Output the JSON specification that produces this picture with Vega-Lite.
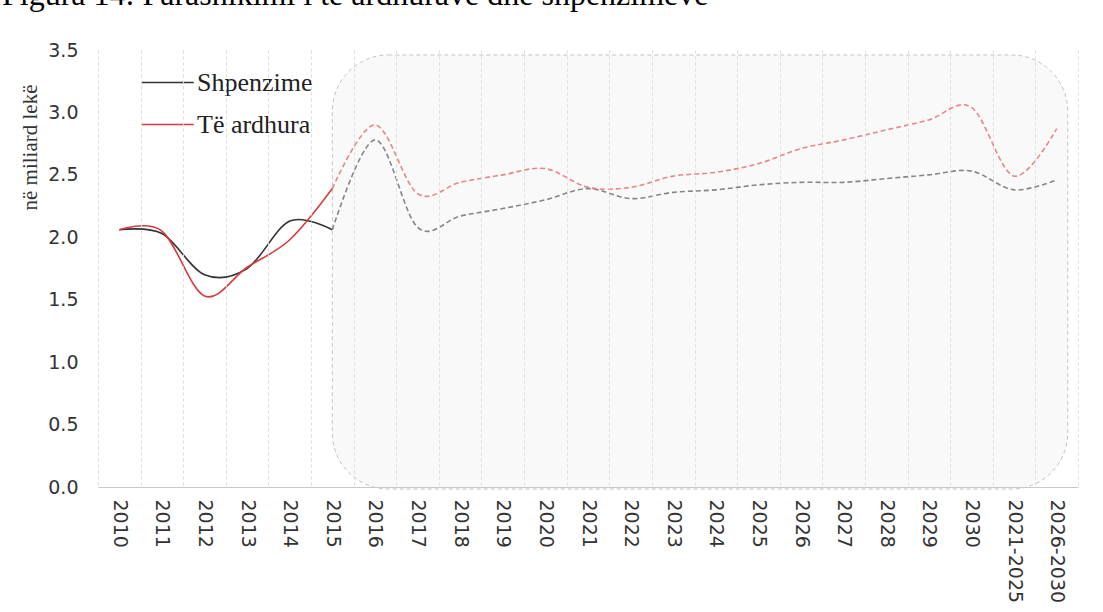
{
  "$schema": "https://vega.github.io/schema/vega-lite/v6.json",
  "width": 980,
  "height": 437,
  "autosize": {"type": "none"},
  "padding": {"left": 98, "top": 50, "right": 25, "bottom": 125},
  "background": "white",
  "title": {
    "text": "Figura 14: Parashikimi i të ardhurave dhe shpenzimeve",
    "anchor": "start",
    "font": "Liberation Serif",
    "fontSize": 32,
    "fontWeight": "normal",
    "color": "#000000",
    "dx": -17,
    "dy": 21,
    "offset": 25,
    "baseline": "alphabetic"
  },
  "config": {
    "view": {"stroke": null},
    "axis": {"gridDash": [3, 3], "gridColor": "#dcdcdc", "ticks": false}
  },
  "layer": [
    {
      "data": {"values": [{"zona": "parashikim"}]},
      "mark": {
        "type": "rect",
        "cornerRadius": 56,
        "fill": "#e6e6e6",
        "fillOpacity": 0.25,
        "stroke": "#c4c4c4",
        "strokeDash": [4, 3],
        "strokeWidth": 1,
        "y2Offset": 2,
        "x2Offset": 11
      },
      "encoding": {
        "x": {"datum": "2015", "bandPosition": 0.5, "type": "ordinal"},
        "x2": {"datum": "2026-2030"},
        "y": {"datum": 3.46, "type": "quantitative"},
        "y2": {"datum": 0}
      }
    },
    {
      "data": {"name": "vlerat"},
      "transform": [
        {"fold": ["Shpenzime", "Të ardhura"], "as": ["seria", "vlera"]},
        {"filter": "datum.year <= '2015'"}
      ],
      "mark": {"type": "line", "interpolate": "cardinal", "strokeWidth": 1.6},
      "encoding": {
        "x": {"field": "year", "type": "ordinal"},
        "y": {"field": "vlera", "type": "quantitative"},
        "order": {"value": null},
        "color": {
          "field": "seria",
          "type": "nominal",
          "scale": {"domain": ["Shpenzime", "Të ardhura"], "range": ["#333333", "#d63c3c"]},
          "legend": {
            "orient": "none",
            "legendX": 42,
            "legendY": 5,
            "title": null,
            "symbolType": "stroke",
            "symbolSize": 2750,
            "symbolStrokeWidth": 1.6,
            "labelFont": "Liberation Serif",
            "labelFontSize": 26,
            "labelColor": "#222222",
            "labelOffset": 2,
            "rowPadding": 1
          }
        }
      }
    },
    {
      "data": {"name": "vlerat"},
      "transform": [
        {"fold": ["Shpenzime", "Të ardhura"], "as": ["seria", "vlera"]},
        {"filter": "datum.year >= '2015'"}
      ],
      "mark": {"type": "line", "interpolate": "cardinal", "strokeWidth": 1.6, "strokeDash": [5, 3]},
      "encoding": {
        "x": {"field": "year", "type": "ordinal"},
        "y": {"field": "vlera", "type": "quantitative"},
        "order": {"value": null},
        "stroke": {
          "field": "seria",
          "type": "nominal",
          "scale": {"domain": ["Shpenzime", "Të ardhura"], "range": ["#858585", "#e88686"]},
          "legend": null
        }
      }
    }
  ],
  "resolve": {"scale": {"x": "shared", "y": "shared"}},
  "encoding": {
    "x": {
      "type": "ordinal",
      "scale": {
        "type": "band",
        "paddingInner": 0,
        "paddingOuter": 0,
        "domain": ["2010","2011","2012","2013","2014","2015","2016","2017","2018","2019","2020","2021","2022","2023","2024","2025","2026","2027","2028","2029","2030","2021-2025","2026-2030"]
      },
      "axis": {
        "title": null,
        "labelAngle": 90,
        "labelFont": "DejaVu Sans",
        "labelFontSize": 19,
        "labelColor": "#333333",
        "labelPadding": 12,
        "tickBand": "extent",
        "grid": true,
        "domainColor": "#c8c8c8"
      }
    },
    "y": {
      "type": "quantitative",
      "scale": {"domain": [0, 3.5], "nice": false},
      "axis": {
        "title": "në miliard lekë",
        "titleFont": "Liberation Serif",
        "titleFontSize": 21,
        "titleFontWeight": "normal",
        "titleColor": "#333333",
        "titleAngle": -90,
        "titleX": -68,
        "titleY": 97,
        "titleAlign": "center",
        "titleBaseline": "middle",
        "labelFont": "DejaVu Sans",
        "labelFontSize": 19,
        "labelColor": "#333333",
        "labelPadding": 20,
        "domain": false,
        "values": [0, 0.5, 1, 1.5, 2, 2.5, 3, 3.5],
        "format": ".1f"
      }
    }
  },
  "datasets": {
    "vlerat": [
      {"year": "2010", "Shpenzime": 2.06, "Të ardhura": 2.06},
      {"year": "2011", "Shpenzime": 2.03, "Të ardhura": 2.05},
      {"year": "2012", "Shpenzime": 1.70, "Të ardhura": 1.53},
      {"year": "2013", "Shpenzime": 1.75, "Të ardhura": 1.76},
      {"year": "2014", "Shpenzime": 2.13, "Të ardhura": 1.98},
      {"year": "2015", "Shpenzime": 2.06, "Të ardhura": 2.39},
      {"year": "2016", "Shpenzime": 2.78, "Të ardhura": 2.90},
      {"year": "2017", "Shpenzime": 2.08, "Të ardhura": 2.35},
      {"year": "2018", "Shpenzime": 2.17, "Të ardhura": 2.44},
      {"year": "2019", "Shpenzime": 2.23, "Të ardhura": 2.50},
      {"year": "2020", "Shpenzime": 2.30, "Të ardhura": 2.55},
      {"year": "2021", "Shpenzime": 2.39, "Të ardhura": 2.40},
      {"year": "2022", "Shpenzime": 2.31, "Të ardhura": 2.40},
      {"year": "2023", "Shpenzime": 2.36, "Të ardhura": 2.49},
      {"year": "2024", "Shpenzime": 2.38, "Të ardhura": 2.52},
      {"year": "2025", "Shpenzime": 2.42, "Të ardhura": 2.59},
      {"year": "2026", "Shpenzime": 2.44, "Të ardhura": 2.71},
      {"year": "2027", "Shpenzime": 2.44, "Të ardhura": 2.78},
      {"year": "2028", "Shpenzime": 2.47, "Të ardhura": 2.86},
      {"year": "2029", "Shpenzime": 2.50, "Të ardhura": 2.94},
      {"year": "2030", "Shpenzime": 2.53, "Të ardhura": 3.04},
      {"year": "2021-2025", "Shpenzime": 2.38, "Të ardhura": 2.49},
      {"year": "2026-2030", "Shpenzime": 2.46, "Të ardhura": 2.87}
    ]
  }
}
